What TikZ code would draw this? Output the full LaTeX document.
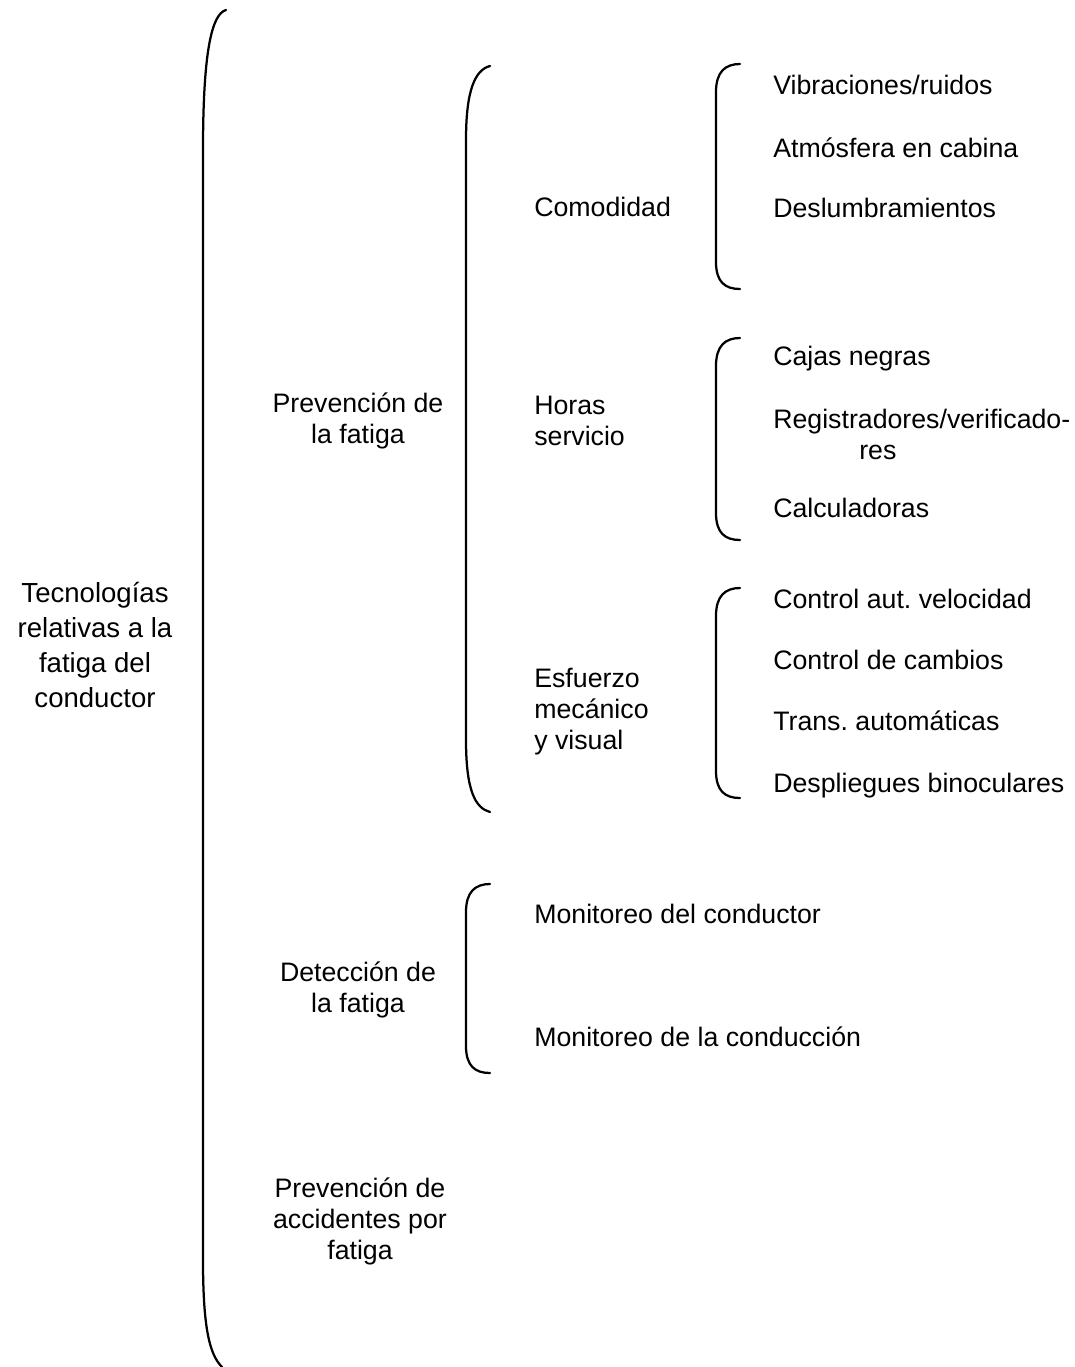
\documentclass[tikz,border=0pt]{standalone}
\usepackage{fontspec}
\setmainfont{Liberation Sans}
\usetikzlibrary{positioning}
\frenchspacing

\begin{document}
\begin{tikzpicture}[
  x=0.025cm, y=-0.025cm,
  txt/.style={inner sep=0pt, font=\fontsize{19}{22}\selectfont},
  centro/.style={txt, align=center},
  izq/.style={txt, align=left, anchor=west},
  hoja/.style={txt, anchor=base west},
  llave/.style={line width=1.6pt, line cap=round}
]
\useasboundingbox (0,0) rectangle (1074,1367);

\node[centro, font=\fontsize{19.6}{24.9}\selectfont] (raiz) at (95,645) {Tecnologías\\relativas a la\\fatiga del\\conductor};

\node[centro] (prev) at (358,421) {Prevención de\\la fatiga};
\node[centro] (det) at (358,990) {Detección de\\la fatiga};
\node[centro] (acc) at (360,1221) {Prevención de\\accidentes por\\fatiga};

\node[hoja] (com) at (534,216) {Comodidad};
\node[izq] (hor) at (534,421) {Horas\\servicio};
\node[izq] (esf) at (534,712) {Esfuerzo\\mecánico\\y visual};

\node[hoja] (vib) at (773,95) {Vibraciones/ruidos};
\node[hoja] (atm) at (773,157) {Atmósfera en cabina};
\node[hoja] (des) at (773,217) {Deslumbramientos};

\node[hoja] (caj) at (773,365) {Cajas negras};
\node[izq] (reg) at (773,434) {Registradores/verificado-\\\hspace*{2.15cm}res};
\node[hoja] (cal) at (773,517) {Calculadoras};

\node[hoja] (cav) at (773,608) {Control aut. velocidad};
\node[hoja] (cdc) at (773,669) {Control de cambios};
\node[hoja] (tra) at (773,730) {Trans. automáticas};
\node[hoja] (dbi) at (773,792) {Despliegues binoculares};

\node[hoja] (mco) at (534,923) {Monitoreo del conductor};
\node[hoja] (mcd) at (534,1046) {Monitoreo de la conducción};

\draw[llave] (226,10) .. controls (212,14) and (203,50) .. (203,150)
  -- (203,1260) .. controls (203,1330) and (210,1355) .. (222,1367);
\draw[llave] (490,66) .. controls (475,70) and (466,90) .. (466,140)
  -- (466,740) .. controls (466,790) and (475,808) .. (490,812);
\draw[llave] (740,64) .. controls (725,64) and (716,72) .. (716,92)
  -- (716,262) .. controls (716,282) and (725,289) .. (740,289);
\draw[llave] (740,338) .. controls (725,338) and (716,346) .. (716,366)
  -- (716,513) .. controls (716,533) and (725,540) .. (740,540);
\draw[llave] (740,588) .. controls (725,588) and (716,596) .. (716,616)
  -- (716,771) .. controls (716,791) and (725,798) .. (740,798);
\draw[llave] (490,884) .. controls (475,884) and (466,892) .. (466,912)
  -- (466,1046) .. controls (466,1066) and (475,1073) .. (490,1073);
\end{tikzpicture}
\end{document}
